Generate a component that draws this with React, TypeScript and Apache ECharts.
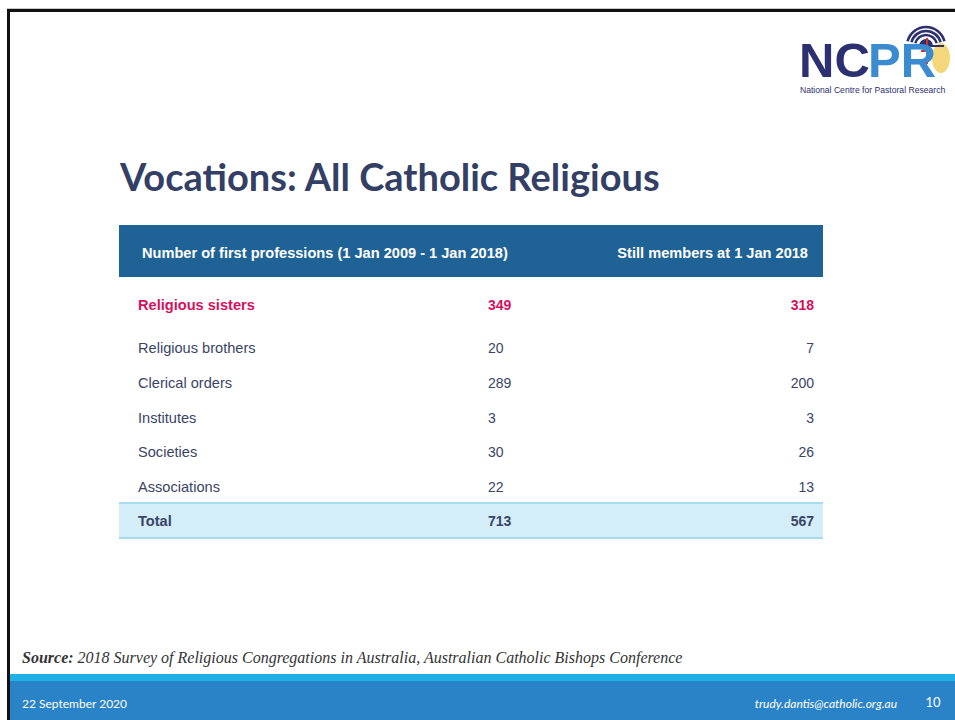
import React, { useEffect, useRef } from "react";
import * as echarts from "echarts";

const title = "Vocations: All Catholic Religious";
const headers = ["Number of first professions (1 Jan 2009 - 1 Jan 2018)", "Still members at 1 Jan 2018"];
const categories = ["Religious sisters", "Religious brothers", "Clerical orders", "Institutes", "Societies", "Associations"];
const firstProfessions = [349, 20, 289, 3, 30, 22];
const stillMembers = [318, 7, 200, 3, 26, 13];
const totalLabel = "Total";
const totals = [713, 567];
const sourceLabel = "Source:";
const sourceText = " 2018 Survey of Religious Congregations in Australia, Australian Catholic Bishops Conference";
const footerDate = "22 September 2020";
const footerEmail = "trudy.dantis@catholic.org.au";
const pageNumber = "10";

const NAVY = "#3a4466";
const PINK = "#d5105e";
const ARIAL = "Liberation Sans, Arial, sans-serif";

export default function App() {
  const ref = useRef<HTMLDivElement>(null);
  useEffect(() => {
    document.body.style.margin = "0";
    const chart = echarts.init(ref.current!, null, { renderer: "svg" });
    const els: any[] = [];
    // slide frame
    els.push({ type: "rect", shape: { x: 0, y: 0, width: 955, height: 720 }, style: { fill: "#ffffff" } });
    els.push({ type: "rect", shape: { x: 7, y: 8, width: 948, height: 1 }, style: { fill: "#c8c8c8" } });
    els.push({ type: "rect", shape: { x: 7, y: 9, width: 948, height: 3 }, style: { fill: "#111111" } });
    els.push({ type: "rect", shape: { x: 7, y: 9, width: 3, height: 711 }, style: { fill: "#111111" } });

    // logo
    const arcCx = 926, arcCy = 46;
    els.push({ type: "ellipse", shape: { cx: 941, cy: 58, rx: 9, ry: 15 }, style: { fill: "#f3d77a" } });
    [19, 15, 11].forEach((r) => {
      els.push({ type: "arc", shape: { cx: arcCx, cy: arcCy, r, startAngle: Math.PI * 1.08, endAngle: Math.PI * 1.92 }, style: { stroke: "#2c2f70", lineWidth: 2.6, fill: null } });
    });
    els.push({ type: "sector", shape: { cx: arcCx, cy: arcCy, r0: 0, r: 7, startAngle: Math.PI, endAngle: Math.PI * 2 }, style: { fill: "#2c2f70" } });
    els.push({ type: "rect", shape: { x: 908, y: 45, width: 36, height: 2 }, style: { fill: "#2c2f70" } });
    els.push({ type: "rect", shape: { x: 926, y: 38, width: 2, height: 26 }, style: { fill: "#d0342c" } });
    els.push({ type: "rect", shape: { x: 921, y: 50, width: 12, height: 2 }, style: { fill: "#d0342c" } });
    els.push({ type: "text", style: { text: "NC", x: 799, y: 84, font: `bold 49px ${ARIAL}`, fill: "#2c2f70", textAlign: "left", textVerticalAlign: "bottom" } });
    els.push({ type: "text", style: { text: "PR", x: 868, y: 84, font: `bold 49px ${ARIAL}`, fill: "#3a8bd0", textAlign: "left", textVerticalAlign: "bottom" } });
    els.push({ type: "text", style: { text: "National Centre for Pastoral Research", x: 800, y: 90, font: `8.6px ${ARIAL}`, fill: "#2c2f70", textAlign: "left", textVerticalAlign: "middle" } });

    // title
    els.push({ type: "text", style: { text: title, x: 120, y: 176, font: `bold 38px Lato, sans-serif`, fill: "#343f66", textAlign: "left", textVerticalAlign: "middle" } });

    // table header
    const tx = 119, tw = 704;
    els.push({ type: "rect", shape: { x: tx, y: 225, width: tw, height: 52 }, style: { fill: "#1f6396" } });
    els.push({ type: "text", style: { text: headers[0], x: 142, y: 253, font: `bold 14.6px ${ARIAL}`, fill: "#ffffff", textAlign: "left", textVerticalAlign: "middle" } });
    els.push({ type: "text", style: { text: headers[1], x: 808, y: 253, font: `bold 14.6px ${ARIAL}`, fill: "#ffffff", textAlign: "right", textVerticalAlign: "middle" } });

    // rows
    const rowY = (i: number) => (i === 0 ? 305 : 348 + (i - 1) * 34.8);
    categories.forEach((c, i) => {
      const first = i === 0;
      const w = first ? "bold " : "";
      const fill = first ? PINK : NAVY;
      const y = rowY(i);
      els.push({ type: "text", style: { text: c, x: 138, y, font: `${w}14.6px ${ARIAL}`, fill, textAlign: "left", textVerticalAlign: "middle" } });
      els.push({ type: "text", style: { text: String(firstProfessions[i]), x: 488, y, font: `${w}14px ${ARIAL}`, fill, textAlign: "left", textVerticalAlign: "middle" } });
      els.push({ type: "text", style: { text: String(stillMembers[i]), x: 814, y, font: `${w}14px ${ARIAL}`, fill, textAlign: "right", textVerticalAlign: "middle" } });
    });

    // total row
    els.push({ type: "rect", shape: { x: tx, y: 503, width: tw, height: 35 }, style: { fill: "#d3eef9" } });
    els.push({ type: "rect", shape: { x: tx, y: 502, width: tw, height: 2 }, style: { fill: "#a6dcef" } });
    els.push({ type: "rect", shape: { x: tx, y: 537, width: tw, height: 2 }, style: { fill: "#a6dcef" } });
    els.push({ type: "text", style: { text: totalLabel, x: 138, y: 521, font: `bold 14.6px ${ARIAL}`, fill: NAVY, textAlign: "left", textVerticalAlign: "middle" } });
    els.push({ type: "text", style: { text: String(totals[0]), x: 488, y: 521, font: `bold 14px ${ARIAL}`, fill: NAVY, textAlign: "left", textVerticalAlign: "middle" } });
    els.push({ type: "text", style: { text: String(totals[1]), x: 814, y: 521, font: `bold 14px ${ARIAL}`, fill: NAVY, textAlign: "right", textVerticalAlign: "middle" } });

    // source
    els.push({
      type: "text",
      style: {
        text: `{b|${sourceLabel}}{i|${sourceText}}`,
        x: 22, y: 657, textAlign: "left", textVerticalAlign: "middle",
        rich: {
          b: { font: `italic bold 16px Liberation Serif, Times New Roman, serif`, fill: "#333333" },
          i: { font: `italic 16px Liberation Serif, Times New Roman, serif`, fill: "#333333" },
        },
      },
    });

    // footer
    els.push({ type: "rect", shape: { x: 10, y: 674, width: 945, height: 7 }, style: { fill: "#1fb0e6" } });
    els.push({ type: "rect", shape: { x: 10, y: 681, width: 945, height: 39 }, style: { fill: "#2a83c6" } });
    els.push({ type: "text", style: { text: footerDate, x: 22, y: 703, font: `12px Lato, sans-serif`, fill: "#ffffff", textAlign: "left", textVerticalAlign: "middle" } });
    els.push({ type: "text", style: { text: footerEmail, x: 897, y: 703, font: `italic 12px Lato, sans-serif`, fill: "#ffffff", textAlign: "right", textVerticalAlign: "middle" } });
    els.push({ type: "text", style: { text: pageNumber, x: 933, y: 702, font: `13px Lato, sans-serif`, fill: "#ffffff", textAlign: "center", textVerticalAlign: "middle" } });

    chart.setOption({ animation: false, graphic: { elements: els } });
    return () => chart.dispose();
  }, []);
  return <div ref={ref} style={{ width: 955, height: 720 }} />;
}
